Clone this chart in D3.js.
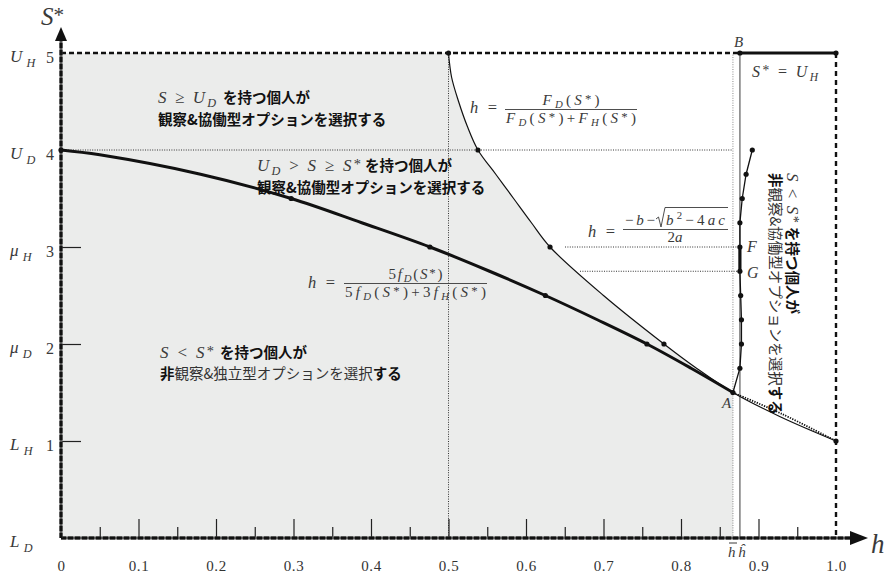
<!DOCTYPE html>
<html>
<head>
<meta charset="utf-8">
<script src="https://cdn.jsdelivr.net/npm/d3@7"></script>
<style>
  body { margin: 0; background: #fff; }
  svg { display: block; }
</style>
</head>
<body>
<svg id="chart" width="887" height="579"></svg>
<script>
// ---- axis values ----
const hTickValues = [0, 0.1, 0.2, 0.3, 0.4, 0.5, 0.6, 0.7, 0.8, 0.9, 1.0];
const hTickLabels = ["0", "0.1", "0.2", "0.3", "0.4", "0.5", "0.6", "0.7", "0.8", "0.9", "1.0"];
const hMinorTicks = [0.05, 0.15, 0.25, 0.35, 0.45, 0.55, 0.65, 0.75, 0.85, 0.95];
const sLevels = [0, 1, 2, 3, 4, 5];
const sLevelSymbols = ["L", "L", "μ", "μ", "U", "U"];
const sLevelSubs = ["D", "H", "D", "H", "D", "H"];
const sLevelNumbers = ["", "1", "2", "3", "4", "5"];
const sInnerTicks = [1, 2, 3];

// ---- thresholds on h ----
const hBar = 0.867;
const hHat = 0.876;

// ---- h = 5f_D(S*) / (5f_D(S*) + 3f_H(S*)) ----
const lowerS = [4.0, 3.95, 3.75, 3.5, 3.25, 3.0, 2.75, 2.5, 2.25, 2.0, 1.75, 1.5];
const lowerH = [0.0, 0.05, 0.18, 0.297, 0.388, 0.476, 0.553, 0.625, 0.692, 0.756, 0.813, 0.867];
const lowerTailS = [1.5, 1.28, 1.0];
const lowerTailH = [0.867, 0.93, 1.0];
const lowerDotS = [4.0, 3.5, 3.0, 2.5, 2.0];
const lowerDotH = [0.0, 0.297, 0.476, 0.625, 0.756];

// ---- h = F_D(S*) / (F_D(S*) + F_H(S*)) ----
const upperS = [5.0, 4.75, 4.5, 4.25, 4.0, 3.75, 3.5, 3.25, 3.0, 2.5, 2.0, 1.75, 1.5, 1.25, 1.0];
const upperH = [0.5, 0.504, 0.513, 0.524, 0.538, 0.561, 0.584, 0.607, 0.631, 0.700, 0.778, 0.820, 0.867, 0.928, 1.0];
const upperDotS = [5.0, 4.0, 3.0, 2.0, 1.0];
const upperDotH = [0.5, 0.538, 0.631, 0.778, 1.0];

// ---- h = (-b - sqrt(b^2 - 4ac)) / 2a ----
const quadS = [4.0, 3.75, 3.5, 3.25, 3.0, 2.75, 2.5, 2.25, 2.0, 1.75, 1.5];
const quadH = [0.892, 0.884, 0.879, 0.876, 0.876, 0.876, 0.877, 0.878, 0.878, 0.876, 0.867];
const quadBoldS = [3.0, 2.75];   // F .. G

// ---- S* = U_H segment ----
const topS = 5.0;
const topH = [hHat, 1.0];

const levelUD = 4.0;
const levelF = 3.0;
const levelG = 2.75;
const pointA = { h: hBar, s: 1.5 };

// ---------------------------------------------------------------
const svg = d3.select("#chart");
const x = d3.scaleLinear().domain([0, 1]).range([61, 836]);
const y = d3.scaleLinear().domain([0, 5]).range([538, 53]);

const serif = "'Liberation Serif', 'DejaVu Serif', serif";
const jpFont = "'Noto Sans CJK JP', sans-serif";
const mathColor = "#3a3a3a";
const ink = "#111";

svg.append("rect").attr("width", 887).attr("height", 579).attr("fill", "#fff");

const zip = (hs, ss) => hs.map((h, i) => [h, ss[i]]);
const line = d3.line().x(d => x(d[0])).y(d => y(d[1])).curve(d3.curveCatmullRom);
const straight = d3.line().x(d => x(d[0])).y(d => y(d[1]));

// shaded region: everything left of h = 0.5, then under the F-curve down to A
const upperToA = zip(upperH, upperS).filter(d => d[1] >= pointA.s);
const curvePart = line(upperToA).replace(/^M/, "L");
svg.append("path")
  .attr("d", `M${x(0)},${y(0)}L${x(0)},${y(5)}` + curvePart + `L${x(hBar)},${y(0)}Z`)
  .attr("fill", "#ebeceb");

// dotted guides
const dotted = (x1, y1, x2, y2, col) => svg.append("line")
  .attr("x1", x1).attr("y1", y1).attr("x2", x2).attr("y2", y2)
  .attr("stroke", col).attr("stroke-width", 1).attr("stroke-dasharray", "1,1.4");
dotted(x(0), y(levelUD), x(hBar), y(levelUD), "#333");
dotted(x(0.5), y(0), x(0.5), y(5), "#333");
dotted(x(hBar), y(0), x(hBar), y(5), "#8a8a8a");
dotted(565, y(levelF), x(hHat), y(levelF), "#333");
dotted(580, y(levelG), x(hHat), y(levelG), "#333");

// vertical line at h-hat
svg.append("line").attr("x1", x(hHat)).attr("x2", x(hHat)).attr("y1", y(0)).attr("y2", y(5))
  .attr("stroke", "#858585").attr("stroke-width", 1.6);

// axes ticks (inward)
const xMajor = d3.axisBottom(x).tickValues(hTickValues)
  .tickFormat((d, i) => hTickLabels[i]).tickSizeInner(-19).tickSizeOuter(0).tickPadding(22);
const gx = svg.append("g").attr("transform", `translate(0,${y(0)})`).call(xMajor);
gx.select(".domain").remove();
gx.selectAll(".tick line").attr("stroke", "#222").attr("stroke-width", 1.2);
gx.selectAll(".tick").filter(d => d === 0 || d === 1).select("line").remove();
gx.selectAll("text").attr("font-family", serif).attr("font-size", 15).attr("fill", "#333")
  .attr("letter-spacing", 0.6);

const xMinor = d3.axisBottom(x).tickValues(hMinorTicks).tickFormat("").tickSizeInner(-11).tickSizeOuter(0);
const gxm = svg.append("g").attr("transform", `translate(0,${y(0)})`).call(xMinor);
gxm.select(".domain").remove();
gxm.selectAll(".tick line").attr("stroke", "#222").attr("stroke-width", 1.2);

const yTicks = d3.axisRight(y).tickValues(sInnerTicks).tickFormat("").tickSizeInner(20).tickSizeOuter(0);
const gy = svg.append("g").attr("transform", `translate(${x(0)},0)`).call(yTicks);
gy.select(".domain").remove();
gy.selectAll(".tick line").attr("stroke", "#222").attr("stroke-width", 1.2);

// top boundary S* = U_H (dashed to B, solid after)
svg.append("line").attr("x1", x(0)).attr("x2", x(hHat)).attr("y1", y(topS)).attr("y2", y(topS))
  .attr("stroke", ink).attr("stroke-width", 2.4).attr("stroke-dasharray", "5,3");
svg.append("line").attr("x1", x(topH[0])).attr("x2", x(topH[1])).attr("y1", y(topS)).attr("y2", y(topS))
  .attr("stroke", ink).attr("stroke-width", 3.2);
// h = 1 boundary
svg.append("line").attr("x1", x(1)).attr("x2", x(1)).attr("y1", y(topS)).attr("y2", y(0))
  .attr("stroke", ink).attr("stroke-width", 2.4).attr("stroke-dasharray", "5,4");

// curves
svg.append("path").attr("d", line(zip(upperH, upperS)))
  .attr("fill", "none").attr("stroke", ink).attr("stroke-width", 1.2);
svg.append("path").attr("d", line(zip(lowerTailH, lowerTailS)))
  .attr("fill", "none").attr("stroke", ink).attr("stroke-width", 1.8).attr("stroke-dasharray", "1.3,1.3");
svg.append("path").attr("d", line(zip(lowerH, lowerS)))
  .attr("fill", "none").attr("stroke", ink).attr("stroke-width", 3);
svg.append("path").attr("d", straight(zip(quadH, quadS)))
  .attr("fill", "none").attr("stroke", ink).attr("stroke-width", 1.3);
const boldPts = zip(quadH, quadS).filter(d => d[1] <= quadBoldS[0] && d[1] >= quadBoldS[1]);
svg.append("path").attr("d", straight(boldPts))
  .attr("fill", "none").attr("stroke", ink).attr("stroke-width", 3.2);

// axis lines and arrows
const axisLine = (x1, y1, x2, y2) => {
  svg.append("line").attr("x1", x1).attr("y1", y1).attr("x2", x2).attr("y2", y2)
    .attr("stroke", "#555").attr("stroke-width", 3);
  svg.append("line").attr("x1", x1).attr("y1", y1).attr("x2", x2).attr("y2", y2)
    .attr("stroke", "#111").attr("stroke-width", 3).attr("stroke-dasharray", "5,2");
};
axisLine(x(0), y(0), 852, y(0));
axisLine(x(0), y(0), x(0), 38);
svg.append("path").attr("d", `M868,${y(0)}L850,${y(0) - 7}L850,${y(0) + 7}Z`).attr("fill", ink);
svg.append("path").attr("d", `M${x(0)},27L${x(0) - 6},41L${x(0) + 6},41Z`).attr("fill", ink);

// dots
const dots = [].concat(
  zip(lowerDotH, lowerDotS), zip(upperDotH, upperDotS), zip(quadH, quadS),
  [[topH[0], topS], [topH[1], topS]]
);
svg.append("g").selectAll("circle").data(dots).join("circle")
  .attr("cx", d => x(d[0])).attr("cy", d => y(d[1])).attr("r", 2.6).attr("fill", ink);

// ---- text helpers ----
// parts: [string, kind]; kinds: i (italic), r (roman), sub, sup, star (superscript asterisk),
// jb / jn (Japanese bold / normal)
function richText(parent, px, py, parts, size, opts) {
  opts = opts || {};
  const subShift = opts.subShift || 0.28;
  const t = parent.append("text").attr("x", px).attr("y", py)
    .attr("font-size", size).attr("text-anchor", opts.anchor || "start");
  if (opts.width) t.attr("textLength", opts.width).attr("lengthAdjust", "spacing");
  let shift = 0;
  parts.forEach(([s, k]) => {
    const sp = t.append("tspan").text(s);
    let target = 0;
    if (k === "jb" || k === "jn") {
      sp.attr("font-family", jpFont).attr("font-weight", k === "jb" ? 700 : 400)
        .attr("fill", k === "jb" ? ink : "#333");
    } else {
      sp.attr("font-family", serif).attr("fill", mathColor);
      if (k === "sub") { target = size * subShift; sp.attr("font-size", size * 0.72).attr("font-style", "italic"); }
      else if (k === "sup") { target = -size * 0.38; sp.attr("font-size", size * 0.72); }
      else if (k === "star") { target = -size * 0.12; sp.attr("font-size", size * 0.85); }
      else if (k === "i") sp.attr("font-style", "italic");
    }
    if (target !== shift) { sp.attr("dy", target - shift); shift = target; }
  });
  return t;
}

// axis titles
richText(svg, 41, 25, [["S", "i"], ["*", "star"]], 25);
richText(svg, 871, 553, [["h", "i"]], 27);

// S-level labels
sLevels.forEach((s, i) => {
  richText(svg, 10, y(s) + 9, [[sLevelSymbols[i], "i"], [" ", "r"], [sLevelSubs[i], "sub"]], 17);
  if (sLevelNumbers[i]) richText(svg, 46, y(s) + 10, [[sLevelNumbers[i], "r"]], 16);
});

// h-bar and h-hat labels
richText(svg, 728, 557, [["h", "i"]], 15);
svg.append("line").attr("x1", 729).attr("x2", 737).attr("y1", 543).attr("y2", 543)
  .attr("stroke", mathColor).attr("stroke-width", 1);
richText(svg, 738, 557, [["ĥ", "i"]], 15);

// point labels
richText(svg, 722, 408, [["A", "i"]], 15);
richText(svg, 734, 47, [["B", "i"]], 15);
richText(svg, x(hHat) + 7, y(levelF) + 5, [["F", "i"]], 16);
richText(svg, x(hHat) + 7, y(levelG) + 7, [["G", "i"]], 16);
richText(svg, 752, 77, [["S", "i"], ["*", "star"], [" = ", "r"], ["U", "i"], ["H", "sub"]], 16, { width: 66 });

// region descriptions
const jpSize = 14.5;
richText(svg, 158, 103, [["S", "i"], [" ≥ ", "r"], ["U", "i"], ["D", "sub"]], 17, { width: 58, subShift: 0.22 });
richText(svg, 223, 103, [["を持つ個人が", "jb"]], jpSize);
richText(svg, 158, 125, [["観察&協働型オプションを選択する", "jb"]], jpSize);

richText(svg, 257, 171, [["U", "i"], ["D", "sub"], [" > ", "r"], ["S", "i"], [" ≥ ", "r"], ["S", "i"], ["*", "star"]], 17, { width: 104, subShift: 0.22 });
richText(svg, 365, 171, [["を持つ個人が", "jb"]], jpSize);
richText(svg, 257, 193, [["観察&協働型オプションを選択する", "jb"]], jpSize);

richText(svg, 160, 358, [["S", "i"], [" < ", "r"], ["S", "i"], ["*", "star"]], 17, { width: 54 });
richText(svg, 220, 358, [["を持つ個人が", "jb"]], jpSize);
richText(svg, 160, 379, [["非", "jb"], ["観察&独立型オプションを選択", "jn"], ["する", "jb"]], jpSize);

const vg = svg.append("g").attr("transform", "translate(787,173) rotate(90)");
richText(vg, 0, 0, [["S", "i"], [" < ", "r"], ["S", "i"], ["*", "star"]], 17, { width: 50 });
richText(vg, 54, 0, [["を持つ個人が", "jb"]], jpSize);
richText(vg, 0, 17, [["非", "jb"], ["観察&協働型オプションを選択", "jn"], ["する", "jb"]], jpSize);

// ---- formulas ----
const fSize = 15;
function fraction(hx, hy, cx, barY, barX1, barX2, num, numW, den, denW) {
  richText(svg, hx, hy, [["h", "i"], [" =", "r"]], 16.5, { width: 27 });
  richText(svg, cx - numW / 2, barY - 4.5, num, fSize, { width: numW, subShift: 0.2 });
  richText(svg, cx - denW / 2, barY + 13, den, fSize, { width: denW, subShift: 0.2 });
  svg.append("line").attr("x1", barX1).attr("x2", barX2).attr("y1", barY).attr("y2", barY)
    .attr("stroke", mathColor).attr("stroke-width", 0.9);
}
fraction(470, 113, 571, 109.5, 505, 637,
  [["F", "i"], ["D", "sub"], ["(", "r"], ["S", "i"], ["*", "star"], [")", "r"]], 57,
  [["F", "i"], ["D", "sub"], ["(", "r"], ["S", "i"], ["*", "star"], [")+", "r"], ["F", "i"], ["H", "sub"], ["(", "r"], ["S", "i"], ["*", "star"], [")", "r"]], 130);
fraction(308, 288, 415.5, 283.5, 344, 487,
  [["5", "r"], ["f", "i"], ["D", "sub"], ["(", "r"], ["S", "i"], ["*", "star"], [")", "r"]], 54,
  [["5", "r"], ["f", "i"], ["D", "sub"], ["(", "r"], ["S", "i"], ["*", "star"], [")+3", "r"], ["f", "i"], ["H", "sub"], ["(", "r"], ["S", "i"], ["*", "star"], [")", "r"]], 141);

// quadratic-root formula
richText(svg, 588, 237, [["h", "i"], [" =", "r"]], 16.5, { width: 27 });
richText(svg, 625, 225, [["−", "r"], ["b", "i"], ["−", "r"]], fSize, { width: 30 });
const rx = 656;
svg.append("path").attr("d", `M${rx},219 L${rx + 2.5},217 L${rx + 5},227 L${rx + 9},207.5 L728,207.5`)
  .attr("fill", "none").attr("stroke", mathColor).attr("stroke-width", 0.9);
richText(svg, rx + 10, 225, [["b", "i"], ["2", "sup"], ["−4", "r"], ["ac", "i"]], fSize, { width: 59 });
svg.append("line").attr("x1", 623).attr("x2", 728).attr("y1", 229.5).attr("y2", 229.5)
  .attr("stroke", mathColor).attr("stroke-width", 0.9);
richText(svg, 675, 242, [["2", "r"], ["a", "i"]], fSize, { anchor: "middle" });
</script>
</body>
</html>
